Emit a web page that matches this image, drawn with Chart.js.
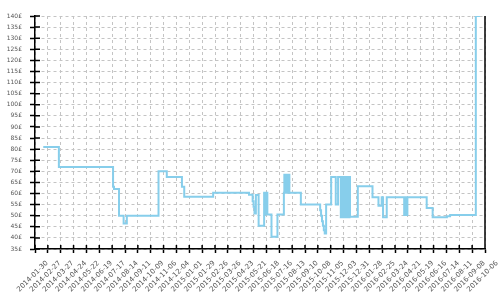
<!DOCTYPE html>
<html>
<head>
<meta charset="utf-8">
<script src="https://cdn.jsdelivr.net/npm/chart.js@4.4.1/dist/chart.umd.min.js"></script>
<style>
	html, body { margin: 0; padding: 0; background: #fff; }
	#wrap { width: 500px; height: 300px; }
</style>
</head>
<body>
<div id="wrap"><canvas id="precioChart" width="500" height="300"></canvas></div>
<script>

//Fecha de la primera marca del eje x (cada marca son 28 dias)
var fechaIni = '2014-01-30';

var xTickLabels = [
	'2014-01-30', '2014-02-27', '2014-03-27', '2014-04-24', '2014-05-22', '2014-06-19',
	'2014-07-17', '2014-08-14', '2014-09-11', '2014-10-09', '2014-11-06', '2014-12-04',
	'2015-01-01', '2015-01-29', '2015-02-26', '2015-03-26', '2015-04-23', '2015-05-21',
	'2015-06-18', '2015-07-16', '2015-08-13', '2015-09-10', '2015-10-08', '2015-11-05',
	'2015-12-03', '2015-12-31', '2016-01-28', '2016-02-25', '2016-03-24', '2016-04-21',
	'2016-05-19', '2016-06-16', '2016-07-14', '2016-08-11', '2016-09-08', '2016-10-06'
];

var yMin = 35;
var yMax = 140;
var yStep = 5;

//Cambios de precio: fecha del cambio y nuevo precio
var priceDates = [
	'2014-02-17', '2014-03-23', '2014-07-19', '2014-07-21', '2014-08-01', '2014-08-11', '2014-08-18',
	'2014-10-26', '2014-11-13', '2014-12-16', '2014-12-21', '2015-02-22',
	'2015-05-11', '2015-05-19', '2015-05-21', '2015-05-23', '2015-05-26', '2015-06-01',
	'2015-06-13', '2015-06-14', '2015-06-15', '2015-06-16', '2015-06-17', '2015-06-18', '2015-06-19', '2015-06-20',
	'2015-06-29', '2015-07-12',
	'2015-07-26', '2015-07-27', '2015-07-28', '2015-07-29', '2015-07-30', '2015-07-31', '2015-08-01',
	'2015-08-02', '2015-08-03', '2015-08-04', '2015-08-05', '2015-08-06', '2015-08-07',
	'2015-09-01',
	'2015-10-13', '2015-10-15', '2015-10-17', '2015-10-19', '2015-10-21', '2015-10-23', '2015-10-26',
	'2015-11-06', '2015-11-16', '2015-11-21',
	'2015-11-27', '2015-11-28', '2015-11-29', '2015-11-30', '2015-12-01', '2015-12-02', '2015-12-03',
	'2015-12-04', '2015-12-05', '2015-12-06', '2015-12-07', '2015-12-08', '2015-12-09', '2015-12-10',
	'2015-12-11', '2015-12-12', '2015-12-13', '2015-12-14', '2015-12-15', '2015-12-16',
	'2015-12-17', '2016-01-03', '2016-02-04', '2016-02-17', '2016-02-24', '2016-02-27', '2016-03-06',
	'2016-04-13', '2016-04-14', '2016-04-15', '2016-04-16', '2016-04-17', '2016-04-18', '2016-04-19', '2016-04-20',
	'2016-06-01', '2016-06-14', '2016-07-15', '2016-07-22', '2016-09-16', '2016-09-25'
];

var prices = [
	81, 72, 63, 62, 50, 46.5, 50,
	70, 67.5, 63, 58.5, 60.3,
	59.5, 56.5, 54, 51, 59.3, 45.5,
	60.3, 50.5, 60.3, 50.5, 60.3, 50.5, 60.3, 50.5,
	40.5, 50.5,
	60.3, 68.5, 60.3, 68.5, 60.3, 68.5, 60.3,
	68.5, 60.3, 68.5, 60.3, 68.5, 60.3,
	55,
	52.5, 50, 47.5, 45.5, 43.5, 42, 55,
	67.5, 55, 67.5,
	49.3, 67.5, 49.3, 67.5, 49.3, 67.5, 49.3,
	67.5, 49.3, 67.5, 49.3, 67.5, 49.3, 67.5,
	49.3, 67.5, 49.3, 67.5, 49.3, 67.5,
	49.5, 63.3, 58.3, 54.5, 58.3, 49.3, 58.3,
	50.3, 58.3, 50.3, 58.3, 50.3, 58.3, 50.3, 58.3,
	53.5, 49.3, 49.8, 50.3, 140, 140
];

//Dias transcurridos desde la fecha inicial
function dias(fecha) {
	return (Date.parse(fecha) - Date.parse(fechaIni)) / 86400000;
}

var puntos = [];
for (var i = 0; i < priceDates.length; i++) {
	puntos.push({x: dias(priceDates[i]), y: prices[i]});
}

//Marcas que cruzan los ejes y borde derecho
var marcasPlugin = {
	id: 'marcas',
	afterDraw: function(chart) {
		var ctx = chart.ctx;
		var area = chart.chartArea;
		var sx = chart.scales.x;
		var sy = chart.scales.y;
		ctx.save();
		ctx.strokeStyle = '#000';
		ctx.lineWidth = 1.5;
		ctx.beginPath();
		ctx.moveTo(area.right, area.top);
		ctx.lineTo(area.right, area.bottom);
		for (var i = 0; i < sx.ticks.length; i++) {
			var px = sx.getPixelForTick(i);
			ctx.moveTo(px, area.bottom);
			ctx.lineTo(px, area.bottom - 4);
		}
		for (var j = 0; j < sy.ticks.length; j++) {
			var py = sy.getPixelForTick(j);
			ctx.moveTo(area.left, py);
			ctx.lineTo(area.left + 5, py);
		}
		ctx.stroke();
		ctx.restore();
	}
};

var ctx = document.getElementById('precioChart').getContext('2d');

var chart = new Chart(ctx, {
	type: 'line',
	data: {
		datasets: [{
			data: puntos,
			stepped: true,
			borderColor: '#87ceeb',
			borderWidth: 2,
			pointRadius: 0,
			fill: false
		}]
	},
	options: {
		responsive: false,
		animation: false,
		layout: { padding: { top: 16, right: 15, left: 0, bottom: 0 } },
		plugins: {
			legend: { display: false },
			tooltip: { enabled: false }
		},
		scales: {
			x: {
				type: 'linear',
				min: 0,
				max: (xTickLabels.length - 1) * 28,
				afterBuildTicks: function(scale) {
					scale.ticks = xTickLabels.map(function(l, i) { return {value: i * 28}; });
				},
				afterFit: function(scale) {
					scale.height = 51;
					scale.paddingLeft = 0;
					scale.paddingRight = 0;
				},
				grid: {
					color: '#c4c4c4',
					lineWidth: 1,
					tickColor: '#000',
					tickLength: 4,
					tickWidth: 1.5
				},
				border: { color: '#000', width: 1.5, dash: [3, 3] },
				ticks: {
					autoSkip: false,
					minRotation: 45,
					maxRotation: 45,
					padding: 6,
					labelOffset: 12,
					color: '#555',
					font: { family: 'DejaVu Sans', size: 7 },
					callback: function(v, i) { return xTickLabels[i]; }
				}
			},
			y: {
				min: yMin,
				max: yMax,
				afterFit: function(scale) {
					scale.width = 35;
				},
				grid: {
					color: '#c4c4c4',
					lineWidth: 1,
					tickColor: '#000',
					tickLength: 5,
					tickWidth: 1.5
				},
				border: { color: '#000', width: 1.5, dash: [3, 3] },
				ticks: {
					autoSkip: false,
					stepSize: yStep,
					padding: 8,
					color: '#555',
					font: { family: 'DejaVu Sans', size: 6 },
					callback: function(v) { return v + '£'; }
				}
			}
		}
	},
	plugins: [marcasPlugin]
});
</script>
</body>
</html>
